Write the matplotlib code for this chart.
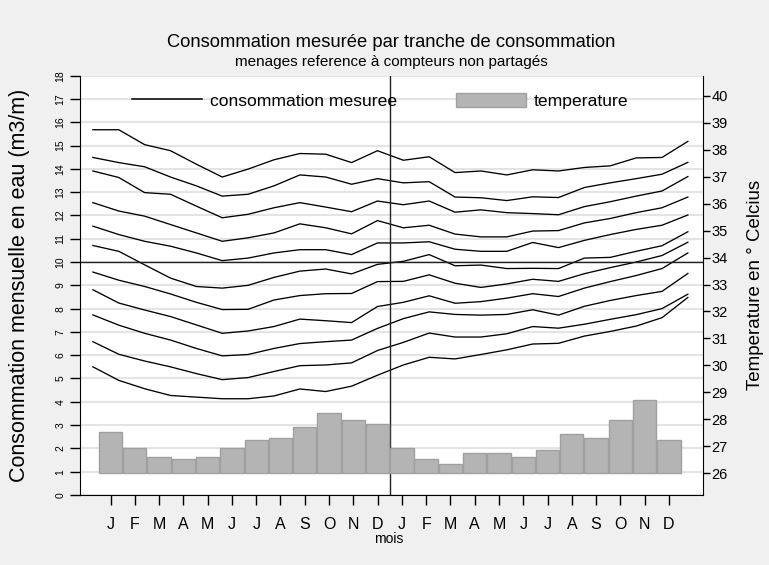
import numpy as np
import matplotlib.pyplot as plt
from matplotlib.lines import Line2D
from matplotlib.patches import Patch

plt.rcParams['font.family'] = ['Liberation Sans', 'DejaVu Sans']

mois = ["J", "F", "M", "A", "M", "J", "J", "A", "S", "O", "N", "D"] * 2

# temperature moyenne mensuelle (axe de droite)
temperature = [27.53, 26.93, 26.61, 26.53, 26.61, 26.93, 27.25, 27.32, 27.72, 28.25, 27.96, 27.84,
               26.93, 26.54, 26.34, 26.74, 26.74, 26.61, 26.88, 27.46, 27.32, 27.96, 28.72, 27.25]

# consommation mesuree par tranche (axe de gauche), du haut vers le bas
tranche_1 = [15.68, 15.68, 15.04, 14.78, 14.2, 13.65, 13.99, 14.39, 14.66, 14.63, 14.27, 14.78,
             14.37, 14.52, 13.84, 13.91, 13.74, 13.96, 13.91, 14.06, 14.13, 14.47, 14.49, 15.18]
tranche_2 = [14.49, 14.27, 14.09, 13.65, 13.27, 12.83, 12.91, 13.27, 13.74, 13.65, 13.34, 13.58,
             13.4, 13.45, 12.79, 12.76, 12.64, 12.8, 12.77, 13.2, 13.4, 13.58, 13.77, 14.28]
tranche_3 = [13.91, 13.63, 12.98, 12.91, 12.4, 11.9, 12.05, 12.33, 12.55, 12.36, 12.16, 12.62,
             12.46, 12.62, 12.14, 12.24, 12.12, 12.08, 12.03, 12.38, 12.59, 12.83, 13.05, 13.67]
tranche_4 = [12.55, 12.19, 11.97, 11.61, 11.25, 10.89, 11.04, 11.25, 11.64, 11.47, 11.21, 11.78,
             11.47, 11.58, 11.2, 11.08, 11.08, 11.33, 11.35, 11.68, 11.87, 12.12, 12.33, 12.79]
tranche_5 = [11.54, 11.18, 10.89, 10.68, 10.39, 10.06, 10.17, 10.39, 10.53, 10.53, 10.32, 10.82,
             10.82, 10.87, 10.55, 10.46, 10.46, 10.84, 10.62, 10.93, 11.18, 11.4, 11.58, 12.02]
tranche_6 = [10.71, 10.46, 9.88, 9.31, 8.95, 8.88, 9.0, 9.34, 9.61, 9.7, 9.49, 9.9,
             10.03, 10.32, 9.84, 9.87, 9.72, 9.73, 9.72, 10.17, 10.2, 10.46, 10.7, 11.3]
tranche_7 = [9.57, 9.22, 8.95, 8.63, 8.27, 7.96, 7.97, 8.37, 8.56, 8.64, 8.65, 9.16,
             9.17, 9.45, 9.09, 8.91, 9.06, 9.26, 9.17, 9.5, 9.76, 10.0, 10.28, 10.85]
tranche_8 = [8.81, 8.24, 7.94, 7.66, 7.3, 6.94, 7.04, 7.23, 7.55, 7.48, 7.4, 8.09,
             8.27, 8.55, 8.23, 8.3, 8.45, 8.64, 8.52, 8.88, 9.16, 9.42, 9.72, 10.39]
tranche_9 = [7.73, 7.29, 6.94, 6.65, 6.29, 5.97, 6.03, 6.29, 6.5, 6.58, 6.65, 7.15,
             7.57, 7.86, 7.75, 7.72, 7.75, 7.95, 7.72, 8.1, 8.35, 8.56, 8.74, 9.51]
tranche_10 = [6.58, 6.04, 5.75, 5.5, 5.21, 4.95, 5.04, 5.3, 5.55, 5.58, 5.67, 6.2,
              6.55, 6.95, 6.78, 6.78, 6.92, 7.23, 7.16, 7.33, 7.54, 7.74, 8.0, 8.62]
tranche_11 = [5.5, 4.92, 4.56, 4.27, 4.2, 4.13, 4.13, 4.25, 4.55, 4.44, 4.67, 5.14,
              5.58, 5.91, 5.84, 6.03, 6.23, 6.48, 6.51, 6.82, 7.02, 7.25, 7.61, 8.48]

tranches = [tranche_1, tranche_2, tranche_3, tranche_4, tranche_5, tranche_6,
            tranche_7, tranche_8, tranche_9, tranche_10, tranche_11]

bar_color = '#b4b4b4'
bar_edge = '#a0a0a0'
base_temp = 26

fig = plt.figure(figsize=(7.69, 5.65), dpi=100, facecolor='#f0f0f0')
rect = [0.104, 0.124, 0.810, 0.742]
ax = fig.add_axes(rect)
axt = fig.add_axes(rect, facecolor='none')

x = np.arange(1, 25)

# lignes de consommation
for serie in tranches:
    ax.plot(x, serie, color='black', lw=0.95)
ax.set_xlim(0.5, 24.58)
ax.set_ylim(0, 18)
ax.set_yticks(range(19))
ax.set_xticks([])
ax.tick_params(axis='y', labelsize=7.5, length=7, width=1, rotation=90)
for lab in ax.get_yticklabels():
    lab.set_va('center')
ax.axhline(10, color='#222222', lw=1)
ax.axvline(12.5, color='#222222', lw=1)
ax.grid(axis='y', color='#e4e4e4', lw=1.5)
ax.set_axisbelow(True)
ax.spines[['top', 'right']].set_visible(False)
ax.set_ylabel("Consommation mensuelle en eau (m3/m)", fontsize=15.5)
ax.yaxis.set_label_coords(-0.08, 0.5)

# barres de temperature
axt.bar(x, np.array(temperature) - base_temp, bottom=base_temp, width=0.96,
        color=bar_color, edgecolor=bar_edge, lw=1)
axt.set_xlim(-0.26, 25.4)
axt.set_ylim(25.2, 40.74)
axt.yaxis.tick_right()
axt.yaxis.set_label_position('right')
axt.set_yticks(range(26, 41))
axt.set_xticks(x)
axt.set_xticklabels(mois, fontsize=11.5)
axt.tick_params(axis='x', length=7, width=1, pad=9)
axt.tick_params(axis='y', length=5, width=1, labelsize=10.5, pad=1)
axt.spines[['top', 'left', 'bottom']].set_visible(False)
axt.set_xlabel('mois', fontsize=10)
axt.xaxis.set_label_coords(0.495, -0.088)
axt.set_ylabel('Temperature en ° Celcius', fontsize=13.5)
axt.yaxis.set_label_coords(1.071, 0.5)

handles = [Line2D([], [], color='black', lw=1.1),
           Patch(facecolor=bar_color, edgecolor=bar_edge)]
axt.legend(handles, ['consommation mesuree', 'temperature'], loc='center',
           bbox_to_anchor=(0.482, 0.94), ncol=2, frameon=False, fontsize=12.6,
           handlelength=4.0, handleheight=0.9, handletextpad=0.45, columnspacing=3.4)

fig.text(0.509, 0.924, "Consommation mesurée par tranche de consommation",
         ha='center', va='center', fontsize=13.2)
fig.text(0.509, 0.890, "menages reference à compteurs non partagés",
         ha='center', va='center', fontsize=11)

fig.savefig('out.png', dpi=100, facecolor=fig.get_facecolor())
